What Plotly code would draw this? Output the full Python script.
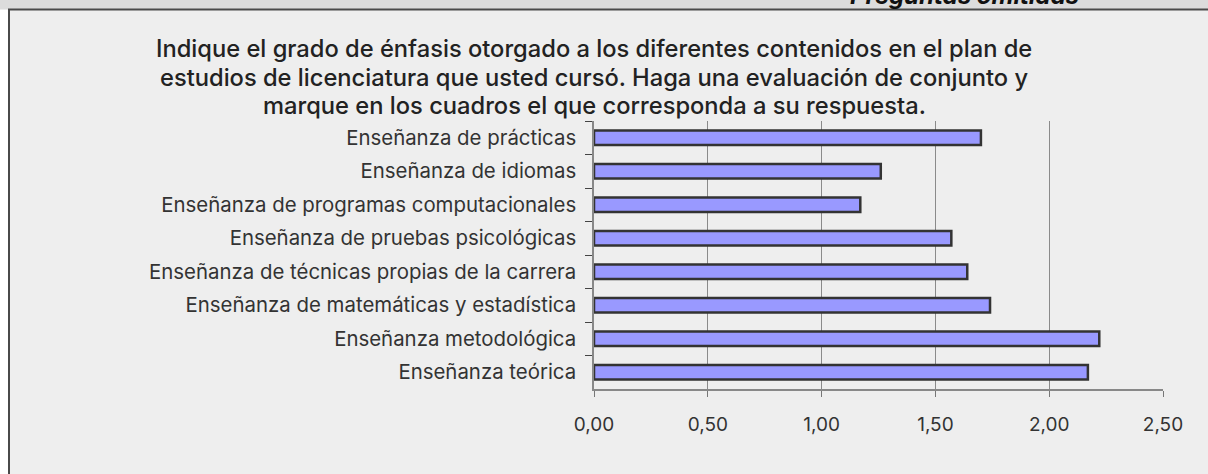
import plotly.graph_objects as go

categories = [
    "Enseñanza de prácticas",
    "Enseñanza de idiomas",
    "Enseñanza de programas computacionales",
    "Enseñanza de pruebas psicológicas",
    "Enseñanza de técnicas propias de la carrera",
    "Enseñanza de matemáticas y estadística",
    "Enseñanza metodológica",
    "Enseñanza teórica",
]
values = [1.70, 1.26, 1.17, 1.57, 1.64, 1.74, 2.22, 2.17]
x_ticks = [0, 0.5, 1.0, 1.5, 2.0, 2.5]
dark_grid_ticks = [0.5, 1.0]

title_lines = [
    "Indique el grado de énfasis otorgado a los diferentes contenidos en el plan de",
    "estudios de licenciatura que usted cursó. Haga una evaluación de conjunto y",
    "marque en los cuadros el que corresponda a su respuesta.",
]
header_text = "Preguntas omitidas"

W, H = 1208, 474
L, R, T, B = 594, 45, 121, 85
pw, ph = W - L - R, H - T - B


def px(x):
    return (x - L) / pw


def py(y):
    return (H - B - y) / ph


FONT = "Inter, Roboto, sans-serif"

fig = go.Figure(
    go.Bar(
        x=values,
        y=categories,
        orientation="h",
        marker=dict(color="#9999ff", line=dict(color="#333333", width=2.5)),
        width=0.44,
    )
)

shapes = [
    dict(type="rect", xref="paper", yref="paper", x0=px(-5), x1=px(W + 5),
         y0=py(9.5), y1=py(-5), fillcolor="#dcdcdc", line=dict(width=0), layer="below"),
    dict(type="rect", xref="paper", yref="paper", x0=px(9), x1=px(W + 20),
         y0=py(H + 20), y1=py(9.5), fillcolor="#eeeeee",
         line=dict(color="#4a4a4a", width=2), layer="below"),
]

annotations = [
    dict(text="<b><i>" + header_text + "</i></b>", xref="paper", yref="paper",
         x=px(964), y=py(-4.5), xanchor="center", yanchor="middle", showarrow=False,
         font=dict(family=FONT, size=24, color="#111111")),
]
title_centers = [48, 77, 106]
for line, yc in zip(title_lines, title_centers):
    annotations.append(
        dict(text=line, xref="paper", yref="paper",
             x=px(594), y=py(yc), xanchor="center", yanchor="middle", showarrow=False,
             font=dict(family=FONT, size=23.7, color="#222222", weight=500))
    )

fig.update_layout(
    width=W, height=H, autosize=False,
    margin=dict(l=L, r=R, t=T, b=B, pad=0),
    paper_bgcolor="#ffffff",
    plot_bgcolor="#eeeeee",
    separators=",.",
    showlegend=False,
    shapes=shapes,
    annotations=annotations,
    font=dict(family=FONT, color="#333333"),
    bargap=0.56,
)

fig.update_xaxes(
    range=[0, 2.5], tickvals=x_ticks, tickformat=".2f",
    showgrid=True, gridcolor="#8a8a8a", gridwidth=1.2,
    showline=True, linecolor="#888888", linewidth=1.5,
    ticks="outside", ticklen=6, tickcolor="#777777",
    zeroline=False, ticklabelstandoff=11,
    tickfont=dict(family=FONT, size=19, color="#333333"),
    minor=dict(tickvals=dark_grid_ticks, showgrid=True, gridcolor="#3a3a3a",
               gridwidth=1.2, ticks="outside", ticklen=6, tickcolor="#3a3a3a"),
    fixedrange=True,
)
fig.update_yaxes(
    autorange="reversed", type="category",
    showgrid=False, showline=True, linecolor="#888888", linewidth=1.5,
    ticks="outside", ticklen=7, tickcolor="#444444", tickson="boundaries",
    ticklabelstandoff=12,
    tickfont=dict(family=FONT, size=20.4, color="#333333"),
    fixedrange=True,
)

fig.write_html(
    "out.html",
    config={"displayModeBar": False},
    post_script="document.body.style.margin='0';document.body.style.overflow='hidden';",
)
